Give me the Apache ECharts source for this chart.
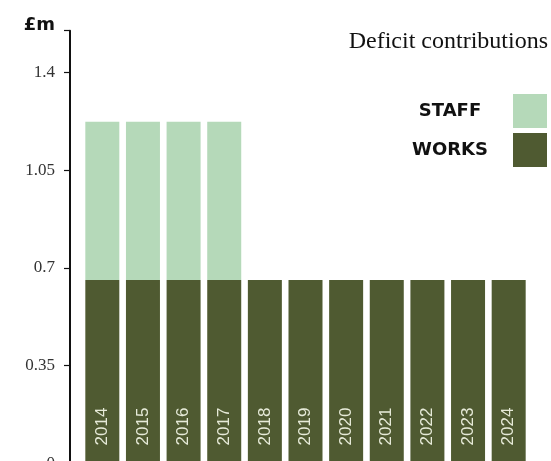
<!DOCTYPE html>
<html>
<head>
<meta charset="utf-8">
<script src="https://cdn.jsdelivr.net/npm/echarts@6/dist/echarts.min.js"></script>
<style>html,body{margin:0;padding:0;background:#fff}#c{width:551px;height:461px}</style>
</head>
<body>
<div id="c"></div>
<script>
var years = ['2014','2015','2016','2017','2018','2019','2020','2021','2022','2023','2024'];
var works = [0.657,0.657,0.657,0.657,0.657,0.657,0.657,0.657,0.657,0.657,0.657];
var staff = [0.567,0.567,0.567,0.567,0,0,0,0,0,0,0];
var yTicks = [0, 0.35, 0.7, 1.05, 1.4];
var yMax = 1.55;

var chart = echarts.init(document.getElementById('c'));
chart.setOption({
  animation: false,
  title: {
    text: 'Deficit contributions',
    right: 3, top: 30, padding: 0,
    textStyle: {fontFamily: 'Liberation Serif', fontSize: 24, fontWeight: 'normal', color: '#111'}
  },
  legend: {
    orient: 'vertical', right: 4, top: 94, padding: 0,
    align: 'right',
    itemWidth: 34, itemHeight: 34, itemGap: 5,
    data: [{name: 'STAFF', icon: 'rect'}, {name: 'WORKS', icon: 'rect'}],
    formatter: function (n) { return '{a|' + n + '}'; },
    textStyle: {
      rich: {a: {width: 116, align: 'center', fontFamily: 'DejaVu Sans', fontWeight: 'bold', fontSize: 18, color: '#111'}}
    }
  },
  grid: {left: 82, right: 22, top: 30.7, bottom: -2.4, containLabel: false, outerBoundsMode: 'none'},
  xAxis: {
    type: 'category', data: years,
    axisLine: {show: false}, axisTick: {show: false}, axisLabel: {show: false}
  },
  yAxis: {
    type: 'value', min: 0, max: yMax, interval: 0.35, offset: 12,
    splitLine: {show: false},
    axisLine: {show: true, lineStyle: {color: '#111', width: 2}},
    axisTick: {show: true, length: 6, lineStyle: {color: '#111', width: 1.2}},
    axisLabel: {
      margin: 15,
      fontFamily: 'Liberation Serif', fontSize: 17, color: '#333',
      formatter: function (v) {
        if (Math.abs(v - yMax) < 1e-6) return '{b|£m}';
        for (var i = 0; i < yTicks.length; i++) if (Math.abs(v - yTicks[i]) < 1e-6) return String(yTicks[i]);
        return '';
      },
      rich: {b: {fontFamily: 'DejaVu Sans', fontWeight: 'bold', fontSize: 18, color: '#111', padding: [0, 0, 10, 0]}}
    }
  },
  series: [
    {
      name: 'WORKS', type: 'bar', stack: 'a', data: works, barWidth: 34,
      itemStyle: {color: '#4f5a31'},
      label: {
        show: true, position: 'insideBottom', rotate: 90, align: 'left', verticalAlign: 'middle',
        distance: 18, formatter: '{b}',
        fontFamily: 'Liberation Sans', fontSize: 17, color: '#e6ead8'
      }
    },
    {
      name: 'STAFF', type: 'bar', stack: 'a', data: staff, barWidth: 34,
      itemStyle: {color: '#b5d9b9'}
    }
  ]
});
</script>
</body>
</html>
